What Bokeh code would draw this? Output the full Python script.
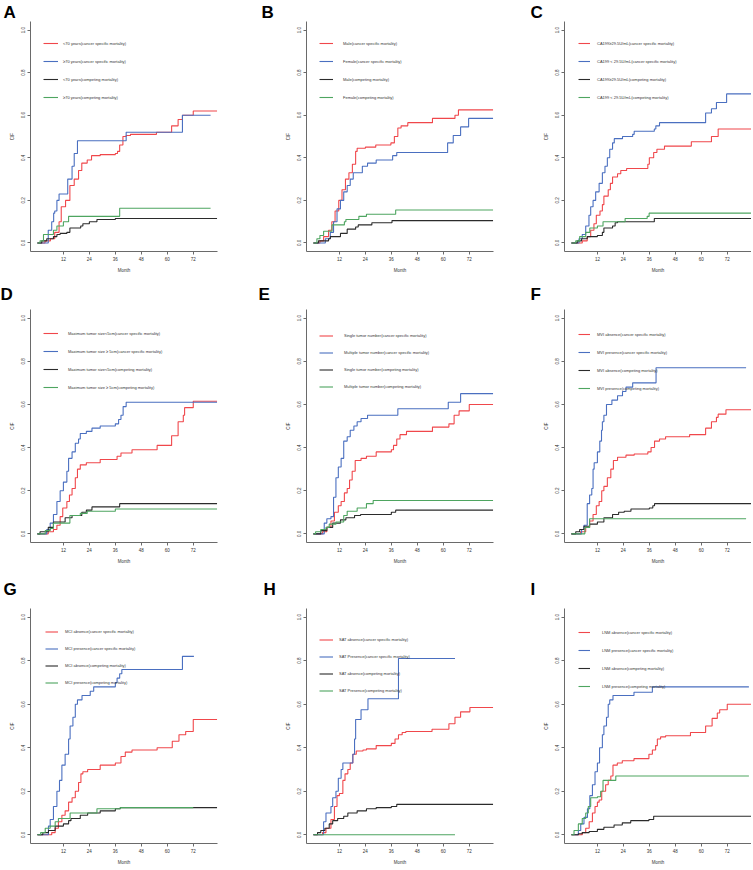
from bokeh.plotting import figure
from bokeh.models import (Range1d, FixedTicker, PrintfTickFormatter, Legend,
                          LegendItem, Title)
from bokeh.layouts import column, row
from bokeh.embed import file_html
from bokeh.resources import INLINE

# ---------------- data (month, cumulative incidence) ----------------
X_TICKS = [12, 24, 36, 48, 60, 72]
Y_TICKS = [0.0, 0.2, 0.4, 0.6, 0.8, 1.0]

A_labels = ["<70 years(cancer specific mortality)", "\u226570 years(cancer specific mortality)",
            "<70 years(competing mortality)", "\u226570 years(competing mortality)"]
A_red_t = [0, 3.5, 6, 8, 10, 11, 13, 15, 17, 19, 20.5, 23, 25, 29, 36, 37, 38, 39.5, 41, 43, 55, 62, 65, 67, 72, 83]
A_red_v = [0, 0.01, 0.02, 0.05, 0.1, 0.17, 0.2, 0.27, 0.3, 0.34, 0.375, 0.39, 0.41, 0.415, 0.42, 0.43, 0.46, 0.5, 0.505, 0.51, 0.52, 0.55, 0.58, 0.6, 0.62, 0.62]
A_blue_t = [0, 5, 6.6, 7.5, 8, 9, 10, 14, 16, 17, 18.5, 41, 67, 80]
A_blue_v = [0, 0.06, 0.1, 0.14, 0.15, 0.2, 0.23, 0.3, 0.36, 0.42, 0.48, 0.52, 0.6, 0.6]
A_black_t = [0, 2, 4.3, 7.4, 9, 10.5, 13.6, 15, 20, 21, 24, 27.5, 36, 83]
A_black_v = [0, 0.01, 0.02, 0.03, 0.04, 0.045, 0.05, 0.07, 0.08, 0.09, 0.1, 0.11, 0.115, 0.115]
A_green_t = [0, 1.2, 2.8, 7.4, 9, 12, 14.4, 38, 80]
A_green_v = [0, 0.01, 0.04, 0.06, 0.08, 0.1, 0.125, 0.163, 0.163]

B_labels = ["Male(cancer specific mortality)", "Female(cancer specific mortality)",
            "Male(competing mortality)", "Female(competing mortality)"]
B_red_t = [0, 3, 4.7, 7, 8.5, 10, 11.7, 13.2, 14.8, 16.4, 18, 19.5, 20.2, 24, 28.8, 35.8, 37.4, 39, 40.5, 43.6, 55, 65.4, 67, 83]
B_red_v = [0, 0.01, 0.03, 0.06, 0.1, 0.15, 0.2, 0.25, 0.3, 0.33, 0.37, 0.43, 0.445, 0.45, 0.46, 0.47, 0.5, 0.54, 0.55, 0.565, 0.585, 0.6, 0.625, 0.625]
B_blue_t = [0, 5.5, 7.8, 9.3, 10.9, 12.5, 14, 15.6, 17, 18.4, 22.6, 25, 29, 36.6, 38.5, 62, 64.6, 68, 71.7, 83]
B_blue_v = [0, 0.02, 0.05, 0.1, 0.16, 0.2, 0.24, 0.27, 0.3, 0.33, 0.36, 0.375, 0.39, 0.41, 0.425, 0.47, 0.505, 0.545, 0.585, 0.585]
B_black_t = [0, 2.3, 7, 7.8, 12.5, 15.6, 19.5, 20.7, 27, 36.3, 83]
B_black_v = [0, 0.01, 0.02, 0.03, 0.045, 0.065, 0.075, 0.085, 0.095, 0.105, 0.105]
B_green_t = [0, 1.6, 3, 4.7, 8.6, 14.3, 15, 21, 24.5, 38, 83]
B_green_v = [0, 0.02, 0.035, 0.055, 0.085, 0.1, 0.11, 0.125, 0.135, 0.155, 0.155]

C_labels = ["CA199\u226529.5U/mL(cancer specific mortality)", "CA199 < 29.5U/mL(cancer specific mortality)",
            "CA199\u226529.5U/mL(competing mortality)", "CA199 < 29.5U/mL(competing mortality)"]
C_red_t = [0, 5, 7.3, 8.9, 10.4, 11.5, 13.2, 14.3, 15, 17, 18, 19, 21.3, 22.8, 25.5, 35.3, 36, 38, 39.5, 43, 55.4, 64.7, 67.8, 83]
C_red_v = [0, 0.01, 0.03, 0.06, 0.09, 0.13, 0.15, 0.18, 0.22, 0.25, 0.28, 0.31, 0.325, 0.34, 0.35, 0.37, 0.4, 0.425, 0.44, 0.455, 0.475, 0.5, 0.535, 0.535]
C_blue_t = [0, 3.5, 5, 6.6, 8.1, 8.9, 10, 11.2, 12.8, 14.3, 15.5, 16.6, 17.7, 19, 19.8, 23.6, 28.3, 29, 38.3, 39, 40.7, 62, 64.7, 67, 71.7, 83]
C_blue_v = [0, 0.02, 0.04, 0.08, 0.13, 0.17, 0.2, 0.24, 0.28, 0.33, 0.36, 0.4, 0.44, 0.47, 0.49, 0.5, 0.51, 0.525, 0.535, 0.55, 0.565, 0.61, 0.63, 0.66, 0.7, 0.7]
C_black_t = [0, 2.7, 4.7, 7.3, 12, 14.3, 15, 19, 20.2, 21.3, 38.3, 83]
C_black_v = [0, 0.01, 0.02, 0.03, 0.035, 0.05, 0.07, 0.08, 0.095, 0.1, 0.115, 0.115]
C_green_t = [0, 2, 3.8, 6.6, 8.5, 12, 14.6, 24.8, 35, 35.9, 83]
C_green_v = [0, 0.01, 0.03, 0.05, 0.07, 0.08, 0.1, 0.115, 0.125, 0.14, 0.14]

D_labels = ["Maximum tumor size<5cm(cancer specific mortality)", "Maximum tumor size \u2265 5cm(cancer specific mortality)",
            "Maximum tumor size<5cm(competing mortality)", "Maximum tumor size \u2265 5cm(competing mortality)"]
D_red_t = [0, 5, 7.4, 9, 10.5, 11.7, 13.6, 14.8, 16, 17.5, 18.5, 19.8, 22.6, 29, 36.8, 38.6, 43.7, 55.3, 62, 65, 67.4, 68, 72, 83]
D_red_v = [0, 0.01, 0.02, 0.04, 0.08, 0.12, 0.15, 0.18, 0.21, 0.26, 0.3, 0.32, 0.33, 0.345, 0.36, 0.375, 0.39, 0.41, 0.455, 0.52, 0.55, 0.585, 0.615, 0.615]
D_blue_t = [0, 4.3, 5.9, 7.4, 9, 10.5, 12, 13.6, 14.4, 16, 17.5, 19, 19.8, 22.6, 25.2, 29, 36, 37.5, 38.6, 39.6, 41, 83]
D_blue_v = [0, 0.02, 0.05, 0.09, 0.15, 0.2, 0.24, 0.29, 0.35, 0.38, 0.42, 0.44, 0.465, 0.475, 0.49, 0.5, 0.51, 0.53, 0.55, 0.59, 0.61, 0.61]
D_black_t = [0, 1.2, 5, 7.4, 12.8, 16, 20.5, 22.6, 25.2, 38, 83]
D_black_v = [0, 0.01, 0.03, 0.055, 0.075, 0.085, 0.1, 0.11, 0.125, 0.14, 0.14]
D_green_t = [0, 3.6, 5.9, 7.4, 15, 19.8, 23, 36, 83]
D_green_v = [0, 0.015, 0.025, 0.05, 0.085, 0.095, 0.105, 0.115, 0.115]

E_labels = ["Single tumor number(cancer specific mortality)", "Multiple tumor number(cancer specific mortality)",
            "Single tumor number(competing mortality)", "Multiple tumor number(competing mortality)"]
E_red_t = [0, 4.2, 6.2, 8.1, 9.7, 11.5, 12.8, 14.3, 15.6, 16.7, 17.9, 19.3, 22, 24.5, 29, 36, 37, 38.5, 40, 43, 55, 62.6, 65, 67.3, 72, 83]
E_red_v = [0, 0.01, 0.03, 0.06, 0.1, 0.13, 0.15, 0.19, 0.21, 0.25, 0.29, 0.34, 0.35, 0.36, 0.38, 0.39, 0.41, 0.44, 0.46, 0.475, 0.495, 0.51, 0.55, 0.57, 0.6, 0.6]
E_blue_t = [0, 5, 6.2, 8.1, 9.3, 10.4, 11.5, 12.8, 14, 15.6, 17, 18.7, 20.2, 22, 25, 39, 62.3, 68, 83]
E_blue_v = [0, 0.05, 0.07, 0.08, 0.17, 0.26, 0.31, 0.35, 0.43, 0.45, 0.48, 0.5, 0.52, 0.535, 0.55, 0.58, 0.61, 0.65, 0.65]
E_black_t = [0, 3.4, 6.2, 8.9, 12.5, 15, 19, 21.8, 36, 38, 83]
E_black_v = [0, 0.015, 0.03, 0.05, 0.065, 0.075, 0.085, 0.09, 0.1, 0.11, 0.11]
E_green_t = [0, 1, 3.4, 5.8, 7.3, 10.4, 14, 15.6, 20.2, 24.5, 27.6, 83]
E_green_v = [0, 0.01, 0.02, 0.03, 0.045, 0.055, 0.085, 0.105, 0.12, 0.14, 0.155, 0.155]

F_labels = ["MVI absence(cancer specific mortality)", "MVI presence(cancer specific mortality)",
            "MVI absence(competing mortality)", "MVI presence(competing mortality)"]
F_red_t = [0, 4.2, 6.6, 8.4, 10, 11.5, 12.8, 14, 15, 16.6, 18.2, 19.4, 21.3, 25.2, 29, 35.3, 36.8, 38.4, 40.7, 43.5, 54.6, 62, 64.7, 67, 67.8, 71.4, 83]
F_red_v = [0, 0.01, 0.03, 0.06, 0.09, 0.13, 0.15, 0.2, 0.22, 0.26, 0.3, 0.34, 0.355, 0.365, 0.37, 0.38, 0.4, 0.43, 0.44, 0.45, 0.46, 0.49, 0.52, 0.54, 0.555, 0.575, 0.575]
F_blue_t = [0, 4.7, 5.8, 7.3, 8.4, 9.4, 10, 10.5, 12, 13.1, 13.9, 14.3, 15, 16.2, 18.7, 21.3, 23.6, 25.2, 28.3, 39.1, 80.7]
F_blue_v = [0, 0.02, 0.04, 0.14, 0.18, 0.21, 0.3, 0.33, 0.38, 0.43, 0.48, 0.52, 0.55, 0.6, 0.62, 0.64, 0.66, 0.68, 0.7, 0.77, 0.77]
F_black_t = [0, 2, 3.8, 5.8, 8.4, 12, 15, 19, 21.8, 24.4, 27.5, 36, 37.6, 38.4, 83]
F_black_v = [0, 0.01, 0.02, 0.035, 0.045, 0.055, 0.075, 0.09, 0.1, 0.105, 0.115, 0.12, 0.13, 0.14, 0.14]
F_green_t = [0, 6.2, 8.4, 80.7]
F_green_v = [0, 0.03, 0.07, 0.07]

G_labels = ["MCI absence(cancer specific mortality)", "MCI presence(cancer specific mortality)",
            "MCI absence(competing mortality)", "MCI presence(competing mortality)"]
G_red_t = [0, 6.6, 8.2, 9.7, 11.3, 12.8, 14.4, 16, 17.5, 19, 20.1, 21, 23.2, 29, 36, 38.6, 40.6, 43.7, 55.3, 62.3, 65.4, 68.5, 72, 83]
G_red_v = [0, 0.01, 0.03, 0.06, 0.09, 0.11, 0.15, 0.17, 0.2, 0.24, 0.28, 0.29, 0.3, 0.32, 0.33, 0.36, 0.38, 0.39, 0.4, 0.43, 0.46, 0.475, 0.53, 0.53]
G_blue_t = [0, 5.1, 5.9, 7.4, 9, 10.2, 11.3, 12.8, 14.4, 15.1, 16.4, 17.5, 18.5, 20.6, 24.4, 26, 36, 36.8, 38, 39, 67, 72.3]
G_blue_v = [0, 0.04, 0.07, 0.13, 0.2, 0.25, 0.32, 0.37, 0.44, 0.5, 0.54, 0.6, 0.62, 0.64, 0.66, 0.68, 0.7, 0.72, 0.74, 0.76, 0.82, 0.82]
G_black_t = [0, 2.5, 5.1, 8.2, 12, 14.4, 15.5, 19.8, 23.2, 29, 36, 38.3, 83]
G_black_v = [0, 0.01, 0.02, 0.04, 0.05, 0.065, 0.075, 0.09, 0.1, 0.11, 0.12, 0.125, 0.125]
G_green_t = [0, 1.5, 3.6, 5.9, 8.2, 9.7, 15.1, 27.5, 38.3, 72]
G_green_v = [0, 0.01, 0.03, 0.04, 0.06, 0.075, 0.1, 0.12, 0.125, 0.125]

H_labels = ["SAT absence(cancer specific mortality)", "SAT Presence(cancer specific mortality)",
            "SAT absence(competing mortality)", "SAT Presence(competing mortality)"]
H_red_t = [0, 4.2, 5.8, 8.1, 9.7, 10.9, 12, 13.6, 14.6, 15.9, 17, 18.2, 19.8, 22.9, 24.5, 29, 36, 37.7, 39.3, 41, 42.7, 54.8, 62.6, 65.4, 68, 72.3, 83]
H_red_v = [0, 0.01, 0.03, 0.07, 0.13, 0.18, 0.19, 0.25, 0.28, 0.3, 0.33, 0.37, 0.385, 0.39, 0.395, 0.41, 0.42, 0.44, 0.46, 0.47, 0.475, 0.485, 0.51, 0.54, 0.565, 0.585, 0.585]
H_blue_t = [0, 4.7, 5.8, 8.1, 8.9, 10.4, 11.5, 12.8, 13.6, 18.2, 19, 19.5, 22, 25.2, 39.3, 65.4]
H_blue_v = [0, 0.06, 0.1, 0.13, 0.17, 0.2, 0.26, 0.3, 0.33, 0.37, 0.44, 0.53, 0.575, 0.625, 0.81, 0.81]
H_black_t = [0, 1.9, 3.4, 5.3, 7.3, 8.9, 11.2, 14, 15.9, 20.2, 24.5, 29, 36, 38.5, 83]
H_black_v = [0, 0.01, 0.02, 0.03, 0.05, 0.065, 0.075, 0.085, 0.1, 0.11, 0.12, 0.125, 0.13, 0.14, 0.14]
H_green_t = [0, 65.4]
H_green_v = [0, 0]

I_labels = ["LNM absence(cancer specific mortality)", "LNM presence(cancer specific mortality)",
            "LNM absence(competing mortality)", "LNM presence(competing mortality)"]
I_red_t = [0, 5, 6.6, 8.2, 9.7, 10.9, 12, 12.8, 14, 15.8, 17, 18.2, 19.2, 21.2, 23.5, 28.9, 35.8, 37.4, 38.9, 39.7, 41.2, 43.5, 55, 62, 65, 67.4, 68.5, 72, 83]
I_red_v = [0, 0.01, 0.03, 0.06, 0.1, 0.13, 0.15, 0.16, 0.2, 0.23, 0.25, 0.27, 0.32, 0.33, 0.34, 0.35, 0.37, 0.39, 0.41, 0.44, 0.45, 0.455, 0.47, 0.5, 0.535, 0.56, 0.575, 0.6, 0.6]
I_blue_t = [0, 3.2, 4.3, 5.8, 7.4, 8.5, 9.7, 10.9, 12, 13, 14.3, 15, 16.2, 17, 17.7, 19.2, 28.9, 37.4, 82]
I_blue_v = [0, 0.02, 0.05, 0.08, 0.12, 0.18, 0.23, 0.29, 0.33, 0.4, 0.46, 0.5, 0.54, 0.6, 0.62, 0.64, 0.655, 0.68, 0.68]
I_black_t = [0, 3.2, 5, 8.2, 12, 15, 19.7, 23.5, 27.4, 35.8, 38, 83]
I_black_v = [0, 0.005, 0.01, 0.015, 0.025, 0.035, 0.045, 0.055, 0.065, 0.07, 0.085, 0.085]
I_green_t = [0, 1.2, 3.2, 5, 6.6, 7.8, 8.9, 12, 13.5, 14.6, 20.5, 82]
I_green_v = [0, 0.02, 0.05, 0.075, 0.1, 0.13, 0.17, 0.175, 0.2, 0.25, 0.27, 0.27]

# ---------------- styling / layout ----------------
COLORS = ["#F0474B", "#4A6FC0", "#2B2B2B", "#4EA560"]
FONT = "Liberation Sans"
FRAME_W = 187
COL_W = [258, 269, 224]
COL_LEFT = [30, 48, 37]
# (top border, frame height, bottom border) per row (frames are aligned across a row)
ROW_GEOM = [(20, 231, 25), (32, 234, 25), (40, 236, 25)]
# title (panel letter) standoff per row, x offset per column
LETTER_STANDOFF = [0, 12, 20]
LETTER_X = [[-27, -45, -34], [-30, -48, -34], [-27, -43, -34]]
# legend: line offset from frame left, first centre below frame top, pitch, standoff, glyph width
LEGEND_GEOM = [[(13, 23, 18, 5, 15), (13, 23, 18, 10, 14), (14, 23, 18, 7, 12)],
               [(13, 25, 18, 10, 15), (13, 27, 17, 11, 14), (14, 26, 18, 7, 12)],
               [(15, 24, 17, 7, 13), (13, 32, 17, 6, 14), (14, 25, 18, 12, 12)]]

PANELS = [
    ("A", A_labels, [(A_red_t, A_red_v), (A_blue_t, A_blue_v), (A_black_t, A_black_v), (A_green_t, A_green_v)]),
    ("B", B_labels, [(B_red_t, B_red_v), (B_blue_t, B_blue_v), (B_black_t, B_black_v), (B_green_t, B_green_v)]),
    ("C", C_labels, [(C_red_t, C_red_v), (C_blue_t, C_blue_v), (C_black_t, C_black_v), (C_green_t, C_green_v)]),
    ("D", D_labels, [(D_red_t, D_red_v), (D_blue_t, D_blue_v), (D_black_t, D_black_v), (D_green_t, D_green_v)]),
    ("E", E_labels, [(E_red_t, E_red_v), (E_blue_t, E_blue_v), (E_black_t, E_black_v), (E_green_t, E_green_v)]),
    ("F", F_labels, [(F_red_t, F_red_v), (F_blue_t, F_blue_v), (F_black_t, F_black_v), (F_green_t, F_green_v)]),
    ("G", G_labels, [(G_red_t, G_red_v), (G_blue_t, G_blue_v), (G_black_t, G_black_v), (G_green_t, G_green_v)]),
    ("H", H_labels, [(H_red_t, H_red_v), (H_blue_t, H_blue_v), (H_black_t, H_black_v), (H_green_t, H_green_v)]),
    ("I", I_labels, [(I_red_t, I_red_v), (I_blue_t, I_blue_v), (I_black_t, I_black_v), (I_green_t, I_green_v)]),
]

AX_COLOR = "#6a6a6a"


def make_panel(idx):
    letter, labels, series = PANELS[idx]
    r, c = divmod(idx, 3)
    top, fh, bottom = ROW_GEOM[r]
    left = COL_LEFT[c]
    width = COL_W[c]
    right = width - left - FRAME_W
    title = Title(text=letter, text_font=FONT, text_font_style="bold",
                  text_font_size="17px", align="left", offset=LETTER_X[r][c],
                  standoff=LETTER_STANDOFF[r], text_color="black")
    p = figure(width=width, height=top + fh + bottom, title=title,
               x_range=Range1d(-3.2, 83.2), y_range=Range1d(-0.04, 1.04),
               output_backend="svg", toolbar_location=None,
               min_border_left=left, min_border_right=right,
               min_border_top=top, min_border_bottom=bottom,
               outline_line_color=None, background_fill_color="white",
               border_fill_color="white")
    p.xgrid.visible = False
    p.ygrid.visible = False
    p.xaxis.ticker = FixedTicker(ticks=X_TICKS)
    p.yaxis.ticker = FixedTicker(ticks=Y_TICKS)
    p.yaxis.formatter = PrintfTickFormatter(format="%.1f")
    p.yaxis.major_label_orientation = "vertical"
    p.xaxis.axis_label = "Month"
    p.yaxis.axis_label = "CIF"
    for ax in (p.xaxis[0], p.yaxis[0]):
        ax.axis_line_color = AX_COLOR
        ax.axis_line_width = 1
        ax.major_tick_line_color = AX_COLOR
        ax.major_tick_out = 3
        ax.major_tick_in = 0
        ax.minor_tick_out = 0
        ax.minor_tick_in = 0
        ax.major_label_text_font = FONT
        ax.major_label_text_font_size = "4.5px"
        ax.major_label_text_color = "#333333"
        ax.major_label_standoff = 2
        ax.axis_label_text_font = FONT
        ax.axis_label_text_font_size = "4.5px"
        ax.axis_label_text_font_style = "normal"
        ax.axis_label_text_color = "#333333"
        ax.axis_label_standoff = 4

    renderers = []
    for (t, v), col in zip(series, COLORS):
        rr = p.step(x=t, y=v, mode="after", line_color=col, line_width=1.1)
        renderers.append(rr)

    lx, c0, pitch, std, gw = LEGEND_GEOM[r][c]
    ly = fh - (c0 - pitch / 2) - 4 * pitch
    legend = Legend(items=[LegendItem(label=lab, renderers=[rr]) for lab, rr in zip(labels, renderers)],
                    location=(lx, ly), glyph_width=gw, glyph_height=pitch,
                    label_height=pitch, label_standoff=std, spacing=0,
                    padding=0, margin=0, border_line_color=None,
                    background_fill_alpha=0, label_text_font=FONT,
                    label_text_font_size="4px", label_text_color="#333333")
    p.add_layout(legend)
    return p


figs = [make_panel(i) for i in range(9)]
layout = column(row(*figs[0:3]), row(*figs[3:6]), row(*figs[6:9]))

open("out.html", "w").write(file_html(layout, INLINE))
